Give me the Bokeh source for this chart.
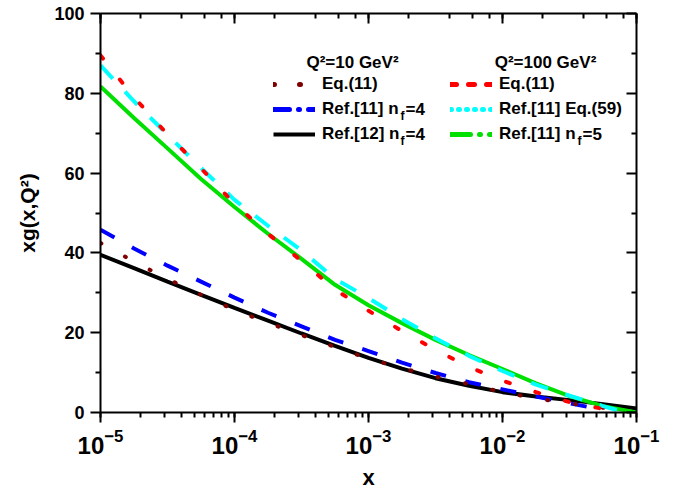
import numpy as np
from bokeh.plotting import figure
from bokeh.models import LinearAxis, LogAxis, Legend, LegendItem, Label, Range1d, FixedTicker
from bokeh.embed import file_html
from bokeh.resources import INLINE

# ---- data (log10 x grid and xg values) ----
logx_grid = [-5.0, -4.75, -4.5, -4.25, -4.0, -3.75, -3.5, -3.25, -3.0,
             -2.75, -2.5, -2.25, -2.0, -1.75, -1.5, -1.25]

# Q^2 = 10 GeV^2
eq11_q10 = [42.5, 37.8, 33.5, 29.5, 25.7, 22.5, 19.4, 16.4, 13.5,
            11.1, 9.0, 7.1, 5.1, 3.5, 2.3, 1.2]
eq11_q10_tail_logx = [-1.15]
eq11_q10_tail = [0.7]

ref11_nf4 = [45.8, 41.1, 36.8, 32.8, 28.8, 25.0, 21.6, 18.2, 15.4,
             12.5, 9.9, 7.6, 5.8, 4.0, 2.3]
ref11_nf4_tail_logx = [-1.33]
ref11_nf4_tail = [1.2]

ref12_logx = logx_grid + [-1.0]
ref12_nf4 = [39.5, 36.2, 32.8, 29.5, 26.2, 23.0, 19.8, 16.7, 13.7,
             11.0, 8.6, 6.7, 5.1, 4.0, 3.1, 2.1, 1.0]

# Q^2 = 100 GeV^2
eq11_q100 = [89.5, 79.0, 69.7, 61.2, 52.3, 44.8, 38.0, 30.8, 25.5,
             20.4, 15.7, 11.4, 8.0, 5.1, 2.6, 0.9]
eq11_q100_tail_logx = [-1.15]
eq11_q100_tail = [0.3]

ref11_eq59 = [87.0, 78.0, 69.6, 61.3, 53.3, 46.8, 40.6, 33.5, 28.7,
              23.4, 18.6, 14.2, 10.4, 7.0, 4.2, 1.6]
ref11_eq59_tail_logx = [-1.08]
ref11_eq59_tail = [0.0]

ref11_nf5_logx = logx_grid + [-1.0]
ref11_nf5 = [81.7, 73.8, 66.2, 58.5, 51.5, 44.8, 38.5, 32.0, 26.9,
             22.4, 18.2, 14.4, 10.9, 7.3, 4.1, 1.6, 0.0]

y_ticks = [0, 20, 40, 60, 80, 100]
y_minor = [10, 30, 50, 70, 90]

FONT = "Liberation Sans"

# frame geometry (pixels in the page)
FL, FR, FT, FB = 100, 636, 13, 412
XMIN_LOG, XMAX_LOG, YMIN, YMAX = -5.0, -1.0, 0.0, 100.0

def xs(logs):
    return [10.0 ** v for v in logs]

def px2x(px):
    return 10.0 ** (XMIN_LOG + (px - FL) / (FR - FL) * (XMAX_LOG - XMIN_LOG))

def py2y(py):
    return YMIN + (FB - py) / (FB - FT) * (YMAX - YMIN)

p = figure(width=684, height=492, x_axis_type="log",
           x_range=Range1d(1e-5, 1e-1), y_range=Range1d(0, 100),
           output_backend="svg", toolbar_location=None,
           min_border_left=FL, min_border_right=684 - FR, min_border_top=FT,
           min_border_bottom=492 - FB)
p.grid.visible = False
p.outline_line_color = None
p.background_fill_color = "white"
p.border_fill_color = "white"

# ---- data lines ----
W = 4
p.line(xs(ref12_logx), ref12_nf4, line_color="black", line_width=W)
p.line(xs(ref11_nf5_logx), ref11_nf5, line_color="#00e000", line_width=W)
p.line(xs(logx_grid[:15] + ref11_nf4_tail_logx), ref11_nf4 + ref11_nf4_tail,
       line_color="#0000ff", line_width=W, line_dash="16 20")
p.line(xs(logx_grid + eq11_q10_tail_logx), eq11_q10 + eq11_q10_tail,
       line_color="#800000", line_width=W, line_dash="1 27", line_cap="round")
p.line(xs(logx_grid + ref11_eq59_tail_logx), ref11_eq59 + ref11_eq59_tail,
       line_color="#00ffff", line_width=W, line_dash="18 18")
p.line(xs(logx_grid + eq11_q100_tail_logx), eq11_q100 + eq11_q100_tail,
       line_color="#ff0000", line_width=W, line_dash="4 27", line_cap="round")

# ---- legend-only sample renderers (nothing drawn in the plot) ----
nan1 = np.array([np.nan])
def proxy(**kw):
    return p.line(nan1, nan1, **kw)

lg_brown = proxy(line_color="#800000", line_width=5, line_dash="1 25", line_cap="round")
lg_blue = proxy(line_color="#0000ff", line_width=5, line_dash="16 9 1 9", line_cap="round")
lg_black = proxy(line_color="black", line_width=4)
lg_red = proxy(line_color="#ff0000", line_width=5, line_dash="6 12", line_cap="round")
lg_cyan = proxy(line_color="#00ffff", line_width=5, line_dash="1 7", line_cap="round")
lg_green = proxy(line_color="#00e000", line_width=5, line_dash="20 9 1 9", line_cap="round")

GW, STANDOFF, ROWH, SPACING = 42, 7, 20, 5
LEG_TOP = 74
LEG_H = 3 * ROWH + 2 * SPACING
L1X, L2X = 273, 450

def make_legend(items, left_px):
    return Legend(items=items, location=(left_px - FL, FB - (LEG_TOP + LEG_H)),
                  padding=0, margin=0, spacing=SPACING,
                  glyph_width=GW, glyph_height=ROWH, label_standoff=STANDOFF,
                  label_text_font=FONT, label_text_font_style="bold",
                  label_text_font_size="17px", label_height=ROWH,
                  label_text_color="black",
                  background_fill_alpha=0, border_line_color=None)

leg1 = make_legend([LegendItem(label="Eq.(11)", renderers=[lg_brown]),
                    LegendItem(label="Ref.[11] n", renderers=[lg_blue]),
                    LegendItem(label="Ref.[12] n", renderers=[lg_black])], L1X)
leg2 = make_legend([LegendItem(label="Eq.(11)", renderers=[lg_red]),
                    LegendItem(label="Ref.[11] Eq.(59)", renderers=[lg_cyan]),
                    LegendItem(label="Ref.[11] n", renderers=[lg_green])], L2X)
p.add_layout(leg1)
p.add_layout(leg2)

def lab(px, py, text, size="17px", align="left", base="middle"):
    p.add_layout(Label(x=px2x(px), y=py2y(py), text=text, text_font=FONT,
                       text_font_style="bold", text_font_size=size,
                       text_align=align, text_baseline=base, text_color="black"))

# legend column titles
lab(352, 62, "Q\u00b2=10 GeV\u00b2", align="center")
lab(545, 62, "Q\u00b2=100 GeV\u00b2", align="center")

# subscripts f and the rest of the n_f labels
NW = 77.5  # width of "Ref.[11] n" in bold 17px
rows = [LEG_TOP + ROWH / 2 + i * (ROWH + SPACING) for i in range(3)]
for left, row, tail in [(L1X, rows[1], "=4"), (L1X, rows[2], "=4"), (L2X, rows[2], "=5")]:
    sx = left + GW + STANDOFF + NW
    lab(sx + 0.5, row + 6, "f", size="12px")
    lab(sx + 5.5, row, tail)

# ---- axes ----
def style_axis(ax):
    ax.axis_line_width = 2
    ax.major_tick_line_width = 2
    ax.minor_tick_line_width = 2
    ax.axis_line_color = "black"
    ax.major_tick_line_color = "black"
    ax.minor_tick_line_color = "black"
    ax.major_label_text_color = "black"
    ax.axis_label_text_color = "black"

xa = p.xaxis[0]
style_axis(xa)
xa.major_tick_out = 10
xa.major_tick_in = 0
xa.minor_tick_out = 5
xa.minor_tick_in = 0
xa.major_label_text_font = FONT
xa.major_label_text_font_style = "bold"
xa.major_label_text_font_size = "24px"
xa.major_label_standoff = 6
xa.axis_label = "x"
xa.axis_label_text_font = FONT
xa.axis_label_text_font_style = "bold"
xa.axis_label_text_font_size = "22px"
xa.axis_label_standoff = 8

ya = p.yaxis[0]
style_axis(ya)
ya.ticker = FixedTicker(ticks=y_ticks, minor_ticks=y_minor)
ya.major_tick_out = 10
ya.major_tick_in = 0
ya.minor_tick_out = 5
ya.minor_tick_in = 0
ya.major_label_text_font = FONT
ya.major_label_text_font_style = "bold"
ya.major_label_text_font_size = "18px"
ya.major_label_standoff = 6
ya.axis_label = "xg(x,Q\u00b2)"
ya.axis_label_text_font = FONT
ya.axis_label_text_font_style = "bold"
ya.axis_label_text_font_size = "21px"
ya.axis_label_standoff = 12

top = LogAxis()
style_axis(top)
top.major_tick_out = 0
top.major_tick_in = 10
top.minor_tick_out = 0
top.minor_tick_in = 5
top.major_label_text_font_size = "1px"
top.major_label_text_color = None
top.major_label_standoff = 0
p.add_layout(top, "above")

right = LinearAxis(ticker=FixedTicker(ticks=y_ticks, minor_ticks=y_minor))
style_axis(right)
right.major_tick_out = 0
right.major_tick_in = 10
right.minor_tick_out = 0
right.minor_tick_in = 5
right.major_label_text_font_size = "1px"
right.major_label_text_color = None
right.major_label_standoff = 0
p.add_layout(right, "right")

open("out.html", "w").write(file_html(p, INLINE))
